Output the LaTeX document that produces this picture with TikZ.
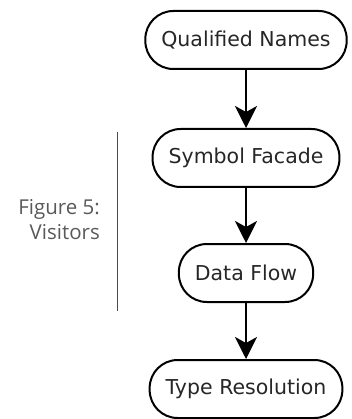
\documentclass[tikz,border=0pt]{standalone}
\usepackage{fontspec}
\setmainfont{DejaVu Sans}
\newfontfamily\captionfont{Open Sans}
\usetikzlibrary{arrows.meta}

\tikzset{
  pass/.style={draw=black, line width=2pt, rounded corners=28pt,
    minimum height=58pt, inner xsep=16pt, text=black!85,
    font=\fontsize{20.5}{24}\selectfont},
  flow/.style={line width=2.2pt, -{Stealth[length=22pt, width=22pt, inset=6pt]}}
}

\begin{document}
\begin{tikzpicture}[x=1pt, y=1pt]
\useasboundingbox (0,0) rectangle (351,-419);
% the compiler passes, top to bottom
\node[pass] (names) at (246,-40) {Qualified Names};
\node[pass] (facade) at (246,-158) {Symbol Facade};
\node[pass] (dataflow) at (246,-273) {Data Flow};
\node[pass] (types) at (246,-389) {Type Resolution};
\draw[flow] (names) -- (facade);
\draw[flow] (facade) -- (dataflow);
\draw[flow] (dataflow) -- (types);
% side caption
\coordinate (bartop) at (117,-132);
\coordinate (barbot) at (117,-311);
\draw[black!70, line width=0.8pt] (bartop) -- (barbot);
\node[anchor=east, align=right, text=black!65, inner sep=0pt,
  font=\captionfont\fontsize{20.5}{25}\selectfont] (caption) at (100,-220)
  {Figure 5:\\Visitors};
\end{tikzpicture}
\end{document}
